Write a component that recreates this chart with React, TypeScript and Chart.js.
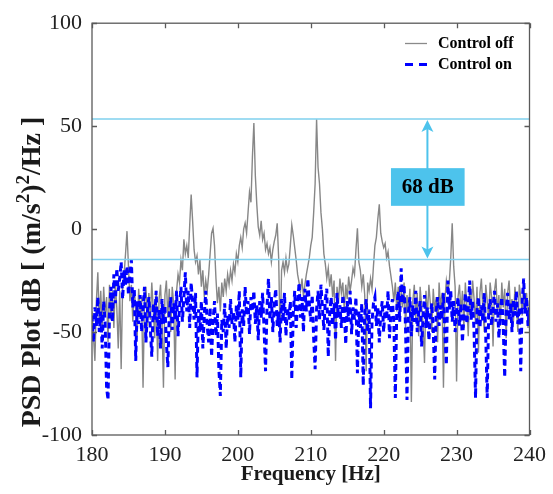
import React, { useEffect, useRef } from "react";
import { Chart, registerables } from "chart.js";

Chart.register(...registerables);

// Spectrum sampled every 0.2 Hz from 180 Hz to 240 Hz (dB)
const controlOff = [
  -40, -52, -64, -35, -21, -45, -30, -50, -28, -42,
  -33, -55, -27, -44, -30, -48, -26, -38, -58, -30,
  -68, -28, -22, -12, -1, -18, -35, -27, -45, -30,
  -38, -52, -29, -41, -33, -77, -36, -28, -47, -31,
  -44, -26, -39, -53, -30, -64, -34, -27, -45, -77,
  -32, -25, -43, -29, -50, -28, -36, -73, -30, -22,
  -26, -15, -20, -5, -12, -8, -14, 2, 16.8, 4,
  -10, -16, -13, -22, -15, -28, -20, -33, -25, -30,
  -22, -12, -2, 0.4, -8, -24, -36, -28, -40, -26,
  -33, -24, -30, -22, -27, -20, -25, -17, -21, -12,
  -16, -8, -4, -9, 0, 3, -2, 8, 18, 13,
  35, 51.5, 26, 12, 1, -3, 4, -5, -2, -10,
  -7, -12, -9, -16, -10, -6, -3, 2.8, -14, -54,
  -20, -16, -21, -14, -20, -17, -8, 2, -3, -9,
  -15, -22, -26, -30, -24, -33, -27, -22, -18, -14,
  -8, -4, 8, 22, 53.4, 30, 22, 8, 0, -12,
  -17, -24, -19, -28, -22, -33, -25, -64, -28, -36,
  -24, -31, -26, -40, -27, -34, -23, -30, -25, -19,
  -22, -10, 0.4, -16, -20, -28, -22, -32, -69, -26,
  -30, -24, -29, -18, -8, -4, 5, 12, -2, -6,
  -9, -7, -14, -11, -18, -23, -28, -35, -26, -40,
  -28, -45, -30, -38, -26, -48, -32, -40, -29, -84,
  -35, -27, -44, -31, -52, -28, -37, -46, -65, -30,
  -42, -27, -36, -50, -29, -40, -33, -55, -26, -38,
  -31, -77, -34, -25, -30, -26, -14, 2.8, -18, -28,
  -74, -33, -27, -41, -30, -48, -26, -37, -52, -29,
  -40, -25, -34, -46, -28, -60, -31, -24, -39, -50,
  -27, -35, -44, -26, -33, -57, -30, -24, -41, -32,
  -47, -26, -38, -29, -53, -31, -25, -40, -34, -45,
  -28, -36, -50, -27, -33, -42, -26, -39, -31, -48,
  -35,
];

const controlOn = [
  -42, -55, -38, -47, -33, -50, -40, -58, -35, -45,
  -77, -83, -40, -28, -45, -22, -36, -19, -30, -24,
  -16, -34, -20, -27, -18, -32, -22, -15, -38, -29,
  -64, -35, -46, -32, -50, -38, -28, -55, -40, -33,
  -48, -62, -36, -44, -30, -52, -39, -58, -34, -46,
  -37, -55, -67, -41, -33, -49, -36, -44, -30, -52,
  -38, -28, -45, -33, -21, -40, -30, -48, -26, -36,
  -44, -31, -72, -39, -50, -35, -58, -42, -30, -47,
  -55, -38, -62, -45, -35, -52, -41, -68, -81, -44,
  -50, -36, -58, -42, -48, -34, -46, -40, -55, -37,
  -44, -30, -72, -39, -47, -28, -42, -35, -51, -33,
  -40, -30, -46, -37, -54, -35, -43, -31, -49, -69,
  -38, -24, -44, -33, -50, -36, -29, -47, -40, -55,
  -34, -45, -31, -52, -38, -44, -35, -73, -41, -30,
  -48, -37, -26, -43, -33, -50, -29, -40, -24, -36,
  -45, -32, -53, -68, -39, -30, -44, -27, -38, -49,
  -34, -29, -62, -41, -33, -47, -36, -54, -31, -43,
  -37, -48, -32, -40, -56, -35, -45, -30, -51, -38,
  -44, -33, -70, -40, -48, -36, -76, -42, -34, -50,
  -39, -87, -45, -36, -33, -47, -38, -55, -41, -35,
  -50, -37, -44, -30, -53, -40, -34, -46, -82, -38,
  -30, -45, -19, -36, -27, -48, -83, -40, -33, -52,
  -37, -45, -30, -50, -41, -35, -57, -43, -32, -48,
  -38, -54, -42, -36, -49, -73, -40, -33, -47, -37,
  -44, -31, -52, -66, -25, -39, -30, -45, -35, -50,
  -40, -33, -47, -36, -55, -42, -31, -46, -38, -25,
  -44, -35, -50, -82, -40, -33, -48, -37, -45, -31,
  -52, -82, -41, -34, -47, -38, -30, -45, -36, -53,
  -40, -33, -48, -72, -39, -31, -44, -36, -50, -34,
  -42, -30, -46, -38, -69, -35, -24, -41, -33, -47,
  -38,
];

// frequency grid (Hz) for the samples above
const frequencies = controlOff.map((_, i) => Math.round((180 + i * 0.2) * 10) / 10);

const xTicks = [180, 190, 200, 210, 220, 230, 240];
const yTicks = [-100, -50, 0, 50, 100];

const referenceLevels = [53.5, -14.8];
const gapLabel = "68 dB";
const arrowFreq = 226;
const boxFreqs = [221.0, 231.1];
const boxLevels = [11.3, 29.6];

const seriesNames = ["Control off", "Control on"];

const SERIF = "'Liberation Serif', 'Times New Roman', serif";

const decorPlugin = {
  id: "decor",
  afterDatasetsDraw(chart: any) {
    const { ctx, chartArea } = chart;
    const xs = chart.scales.x;
    const ys = chart.scales.y;
    const { left, right, top, bottom } = chartArea;
    ctx.save();

    // frame
    ctx.strokeStyle = "#5a5a5a";
    ctx.lineWidth = 1.3;
    ctx.strokeRect(left, top, right - left, bottom - top);

    // inward ticks
    const tl = 5;
    ctx.beginPath();
    xTicks.forEach((v) => {
      const px = Math.round(xs.getPixelForValue(v)) + 0.5;
      ctx.moveTo(px, bottom);
      ctx.lineTo(px, bottom - tl);
      ctx.moveTo(px, top);
      ctx.lineTo(px, top + tl);
    });
    yTicks.forEach((v) => {
      const py = Math.round(ys.getPixelForValue(v)) + 0.5;
      ctx.moveTo(left, py);
      ctx.lineTo(left + tl, py);
      ctx.moveTo(right, py);
      ctx.lineTo(right - tl, py);
    });
    ctx.stroke();

    // arrow between reference levels
    const ax = xs.getPixelForValue(arrowFreq);
    const yTop = ys.getPixelForValue(referenceLevels[0]);
    const yBot = ys.getPixelForValue(referenceLevels[1]);
    const cyan = "#4dc3ec";
    ctx.strokeStyle = cyan;
    ctx.fillStyle = cyan;
    ctx.lineWidth = 2;
    ctx.beginPath();
    ctx.moveTo(ax, yTop + 8);
    ctx.lineTo(ax, yBot - 8);
    ctx.stroke();
    const head = (tipY: number, dir: number) => {
      ctx.beginPath();
      ctx.moveTo(ax, tipY);
      ctx.lineTo(ax - 6, tipY + dir * 12);
      ctx.lineTo(ax, tipY + dir * 9);
      ctx.lineTo(ax + 6, tipY + dir * 12);
      ctx.closePath();
      ctx.fill();
    };
    head(yTop + 1, 1);
    head(yBot - 1, -1);

    // label box
    const bx0 = xs.getPixelForValue(boxFreqs[0]);
    const bx1 = xs.getPixelForValue(boxFreqs[1]);
    const by0 = ys.getPixelForValue(boxLevels[1]);
    const by1 = ys.getPixelForValue(boxLevels[0]);
    ctx.fillRect(bx0, by0, bx1 - bx0, by1 - by0);
    ctx.fillStyle = "#000";
    ctx.font = `bold 21px ${SERIF}`;
    ctx.textAlign = "center";
    ctx.textBaseline = "middle";
    ctx.fillText(gapLabel, (bx0 + bx1) / 2, (by0 + by1) / 2 + 1);

    // legend
    ctx.textAlign = "left";
    ctx.font = `bold 16px ${SERIF}`;
    ctx.lineWidth = 1.3;
    ctx.strokeStyle = "#8a8a8a";
    ctx.beginPath();
    ctx.moveTo(405, 43.5);
    ctx.lineTo(427, 43.5);
    ctx.stroke();
    ctx.fillText(seriesNames[0], 438, 44);
    ctx.strokeStyle = "#0000ff";
    ctx.lineWidth = 2.8;
    ctx.setLineDash([8, 6]);
    ctx.beginPath();
    ctx.moveTo(405, 64.5);
    ctx.lineTo(427, 64.5);
    ctx.stroke();
    ctx.setLineDash([]);
    ctx.fillText(seriesNames[1], 438, 65);

    // x title
    ctx.fillStyle = "#1a1a1a";
    ctx.font = `bold 21px ${SERIF}`;
    ctx.textAlign = "center";
    ctx.textBaseline = "alphabetic";
    ctx.fillText("Frequency [Hz]", (left + right) / 2, 480);

    // y title with superscripts
    const main = `bold 28px ${SERIF}`;
    const sup = `bold 19px ${SERIF}`;
    const segs: [string, boolean][] = [
      ["PSD Plot dB [ (m/s", false],
      ["2", true],
      [")", false],
      ["2", true],
      ["/Hz ]", false],
    ];
    let total = 0;
    const widths = segs.map(([t, s]) => {
      ctx.font = s ? sup : main;
      const w = ctx.measureText(t).width;
      total += w;
      return w;
    });
    ctx.translate(40, 272);
    ctx.rotate(-Math.PI / 2);
    ctx.textAlign = "left";
    let u = -total / 2;
    segs.forEach(([t, s], i) => {
      ctx.font = s ? sup : main;
      ctx.fillText(t, u, s ? -11 : 0);
      u += widths[i];
    });

    ctx.restore();
  },
};

export default function App() {
  const ref = useRef<HTMLCanvasElement | null>(null);
  useEffect(() => {
    if (!ref.current) return;
    const chart = new Chart(ref.current, {
      type: "line",
      data: {
        labels: frequencies,
        datasets: [
          {
            label: "upper level",
            data: [
              { x: 180, y: referenceLevels[0] },
              { x: 240, y: referenceLevels[0] },
            ],
            borderColor: "#7fd0ee",
            borderWidth: 1.5,
            pointRadius: 0,
            order: -2,
          },
          {
            label: "lower level",
            data: [
              { x: 180, y: referenceLevels[1] },
              { x: 240, y: referenceLevels[1] },
            ],
            borderColor: "#7fd0ee",
            borderWidth: 1.5,
            pointRadius: 0,
            order: -1,
          },
          {
            label: seriesNames[1],
            data: controlOn,
            borderColor: "#0000ff",
            borderWidth: 3,
            borderDash: [6, 4],
            pointRadius: 0,
            tension: 0,
            order: 0,
          },
          {
            label: seriesNames[0],
            data: controlOff,
            borderColor: "#878787",
            borderWidth: 1.4,
            pointRadius: 0,
            tension: 0,
            order: 1,
          },
        ],
      } as any,
      options: {
        animation: false,
        responsive: false,
        maintainAspectRatio: false,
        events: [],
        layout: { padding: { left: 0, right: 22, top: 20, bottom: 0 } },
        plugins: { legend: { display: false }, tooltip: { enabled: false } },
        scales: {
          x: {
            type: "linear",
            min: 180,
            max: 240,
            afterFit: (s: any) => {
              s.height = 59;
            },
            afterBuildTicks: (s: any) => {
              s.ticks = xTicks.map((v) => ({ value: v }));
            },
            grid: { display: false, drawTicks: false },
            border: { display: false },
            ticks: {
              padding: 7,
              autoSkip: false,
              maxRotation: 0,
              color: "#222",
              font: { family: SERIF, size: 22 },
            },
          },
          y: {
            type: "linear",
            min: -100,
            max: 100,
            afterFit: (s: any) => {
              s.width = 92;
            },
            afterBuildTicks: (s: any) => {
              s.ticks = yTicks.map((v) => ({ value: v }));
            },
            grid: { display: false, drawTicks: false },
            border: { display: false },
            ticks: {
              padding: 10,
              color: "#222",
              font: { family: SERIF, size: 22 },
            },
          },
        },
      } as any,
      plugins: [decorPlugin],
    });
    return () => chart.destroy();
  }, []);
  return (
    <div style={{ position: "fixed", left: 0, top: 0, width: 553, height: 494, background: "#fff" }}>
      <canvas ref={ref} width={553} height={494} style={{ width: 553, height: 494, display: "block" }} />
    </div>
  );
}
